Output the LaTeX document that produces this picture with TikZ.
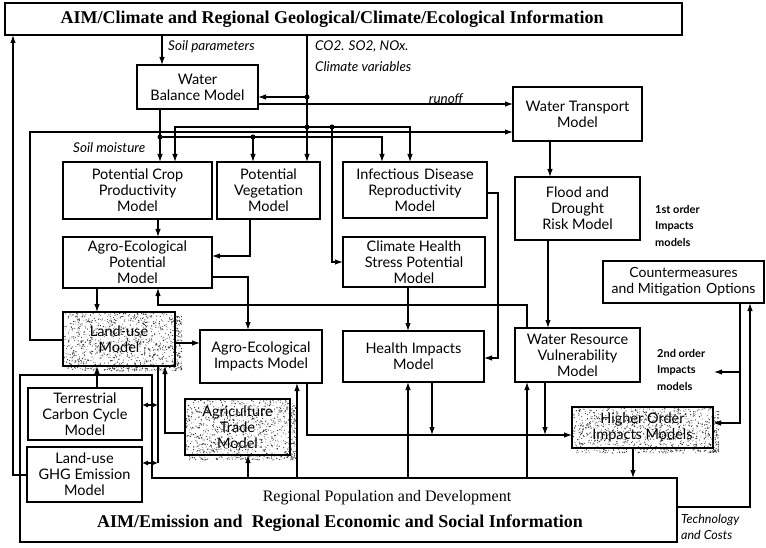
\documentclass[tikz,border=0pt]{standalone}
\usepackage{fontspec}
\setmainfont{Liberation Serif}
\newfontfamily\bxf{Lato}
\usetikzlibrary{arrows.meta}
\tikzset{
  box/.style={draw, line width=1.2pt, outer sep=0pt, inner sep=1pt, align=center,
    font=\bxf\fontsize{14.5}{16}\selectfont, fill=white},
  sbox/.style={box, fill=none},
  conn/.style={line width=1.1pt},
  arr/.style={conn, -{Latex[length=8pt,width=5.5pt]}},
  tw/.style={conn, {Latex[length=6pt,width=5pt]}-{Latex[length=6pt,width=5pt]}},
  lab/.style={font=\bxf\itshape\fontsize{13.5}{16}\selectfont, inner sep=0pt},
  note/.style={font=\bxf\bfseries\fontsize{11}{16.5}\selectfont, align=left, inner sep=0pt},
  dotn/.style={circle, fill, inner sep=0pt, minimum size=5pt},
}
\newcommand\speck[5]{%
  \begin{scope}
    \clip (#1,#2) rectangle (#3,#4);
    \foreach \k in {1,...,#5}{\fill[black!80] ({#1+rnd*(#3-#1)},{#2+rnd*(#4-#2)}) circle ({0.3+0.45*rnd});}
  \end{scope}}
\begin{document}
\begin{tikzpicture}[x=1pt,y=-1pt]
\pgfmathsetseed{42}
\useasboundingbox (0,0) rectangle (766,548);
% top box
\node[box, minimum width=677pt, minimum height=32pt] (top) at (343.5,19) {};
\node[font=\bfseries\fontsize{18}{20}\selectfont, inner sep=0pt] (toptxt) at (332,19) {AIM/Climate and Regional Geological/Climate/Ecological Information};
% bottom box
\draw[line width=1.2pt] (20,375) -- (152,375) -- (152,478) -- (677,478) -- (677,542) -- (20,542) -- cycle;
\coordinate (be) at (0,478);
\node[font=\fontsize{16}{18}\selectfont, inner sep=0pt] (rp) at (387,498) {Regional Population and Development};
\node[font=\bfseries\fontsize{18}{20}\selectfont, inner sep=0pt] (aimE) at (340,523) {AIM/Emission and\ \ Regional Economic and Social Information};
% stippled areas
\speck{63}{312}{175}{366}{900}
\speck{175}{316}{182}{371}{110}
\speck{67}{366}{182}{371}{140}
\speck{185}{399}{290}{455}{850}
\speck{290}{403}{296}{460}{100}
\speck{189}{455}{296}{460}{120}
\speck{572}{407}{713}{448}{850}
\speck{713}{411}{719}{453}{80}
\speck{576}{448}{719}{453}{150}
% boxes
\node[box, minimum width=121pt, minimum height=44pt] (WB) at (197.5,87) {Water\\Balance Model};
\node[box, minimum width=129pt, minimum height=54pt] (WT) at (577.5,114) {Water Transport\\Model};
\node[box, minimum width=149pt, minimum height=57pt] (PC) at (137.5,190.5) {Potential Crop\\Productivity\\Model};
\node[box, minimum width=103pt, minimum height=57pt] (PV) at (268.5,190.5) {Potential\\Vegetation\\Model};
\node[box, minimum width=144pt, minimum height=56pt] (ID) at (415,190) {Infectious\hspace{5pt}Disease\\Reproductivity\\Model};
\node[box, minimum width=125pt, minimum height=63pt] (FD) at (577.5,208.5) {Flood and\\Drought\\Risk Model};
\node[box, minimum width=149pt, minimum height=51pt] (AEP) at (137.5,262.5) {Agro-Ecological\\Potential\\Model};
\node[box, minimum width=142pt, minimum height=50pt] (CHS) at (414,262) {Climate Health\\Stress Potential\\Model};
\node[box, minimum width=161pt, minimum height=42pt, inner sep=0pt, font=\bxf\fontsize{14}{16}\selectfont] (CM) at (683.5,282) {Countermeasures\\and Mitigation\hspace{5pt}Options};
\node[sbox, minimum width=112pt, minimum height=54pt] (LU) at (119,339) {Land-use\\Model};
\node[box, minimum width=122pt, minimum height=53pt] (AEI) at (261,356.5) {Agro-Ecological\\Impacts Model};
\node[box, minimum width=141pt, minimum height=51pt] (HI) at (413.5,356.5) {Health Impacts\\Model};
\node[box, minimum width=125pt, minimum height=54pt] (WRV) at (577.5,355) {Water Resource\\Vulnerability\\Model};
\node[box, minimum width=114pt, minimum height=52pt] (TC) at (85,414) {Terrestrial\\Carbon Cycle\\Model};
\node[box, minimum width=115pt, minimum height=55pt] (GHG) at (84.5,474.5) {Land-use\\GHG Emission\\Model};
\node[sbox, minimum width=105pt, minimum height=56pt] (AT) at (237.5,427) {Agriculture\\Trade\\Model};
\node[sbox, minimum width=141pt, minimum height=41pt] (HO) at (642.5,427.5) {Higher Order\\Impacts Models};
% labels
\node[lab, anchor=west] (sp) at (168,47) {Soil parameters};
\node[lab, anchor=west] (co1) at (315,47) {CO2. SO2, NOx.};
\node[lab, anchor=west] (co2) at (315,67) {Climate variables};
\node[lab] (ro) at (446,99) {runoff};
\node[lab, anchor=west] (sm) at (73,148) {Soil moisture};
\node[note, anchor=north west] (o1) at (655,205) {1st order\\Impacts\\models};
\node[note, anchor=north west] (o2) at (657,349) {2nd order\\Impacts\\models};
\node[lab, anchor=north west, align=left, font=\bxf\itshape\fontsize{12.5}{16}\selectfont] (tcl) at (681,514) {Technology\\and Costs};
% junction points
\coordinate (c1) at (307,97);
\coordinate (c2) at (307,127);
\coordinate (c3) at (332,127);
\coordinate (s1) at (160,137);
\coordinate (s2) at (253,137);
% connectors: top
\draw[arr] (162,0 |- top.south) -- (162,0 |- WB.north);
\draw[arr] (307,0 |- top.south) -- (307,0 |- PV.north);
\draw[arr] (c1) -- (c1 -| WB.east);
\draw[arr] (c2) -- (175,127) -- (175,0 |- PC.north);
\draw[arr] (c2) -- (410,127) -- (410,0 |- ID.north);
\draw[arr] (c3) |- (CHS.west);
\draw[arr] (160,0 |- WB.south) -- (160,0 |- PC.north);
\draw[arr] (s1) -- (382,137) -- (382,0 |- ID.north);
\draw[arr] (s2) -- (253,0 |- PV.north);
\draw[arr] (WB.east |- 0,104) -- (WT.west |- 0,104);
\draw[arr] (LU.west |- 0,340) -- (30,340) -- (30,132) -- (WT.west |- 0,132);
\foreach \p in {c1,c2,c3,s1,s2} \node[dotn] at (\p) {};
% middle
\draw[arr] (158,0 |- PC.south) -- (158,0 |- AEP.north);
\draw[arr] (250,0 |- PV.south) -- (250,256) -- (AEP.east |- 0,256);
\draw[arr] (AEP.east |- 0,277) -- (248,277) -- (248,0 |- AEI.north);
\draw[arr] (97,0 |- AEP.south) -- (97,0 |- LU.north);
\draw[arr] (527,0 |- WRV.north) -- (527,305) -- (158,305) -- (158,0 |- AEP.south);
\draw[arr] (ID.east |- 0,193) -- (498,193) -- (498,358) -- (HI.east |- 0,358);
\draw[arr] (408,0 |- CHS.south) -- (408,0 |- HI.north);
\draw[arr] (550,0 |- WT.south) -- (550,0 |- FD.north);
\draw[arr] (548,0 |- FD.south) -- (548,0 |- WRV.north);
\draw[arr] (LU.east |- 0,343) -- (AEI.west |- 0,343);
% lower left
\draw[arr] (97,0 |- TC.north) -- (97,0 |- LU.south);
\draw[arr] (AT.west |- 0,433) -- (165,433) -- (165,0 |- LU.south);
\draw[conn] (158,0 |- LU.south) -- (158,463);
\draw[tw] (158,405) -- (TC.east |- 0,405);
\draw[tw] (158,463) -- (GHG.east |- 0,463);
\draw[arr] (GHG.west |- 0,475) -- (13,475) -- (13,0 |- top.south);
% bottom connections
\draw[arr] (248,0 |- be) -- (248,0 |- AT.south);
\draw[arr] (297,0 |- be) -- (297,0 |- AEI.south);
\draw[arr] (408,0 |- be) -- (408,0 |- HI.south);
\draw[arr] (527,0 |- be) -- (527,0 |- WRV.south);
\draw[arr] (307,0 |- AEI.south) -- (307,435) -- (HO.west |- 0,435);
\draw[arr] (432,0 |- HI.south) -- (432,435);
\draw[arr] (545,0 |- WRV.south) -- (545,435);
\draw[arr] (633,0 |- HO.south) -- (633,0 |- be);
% right side
\draw[arr] (740,0 |- CM.south) -- (740,423) -- (HO.east |- 0,423);
\draw[arr] (740,372) -- (714,372);
\draw[arr] (677,507) -- (750,507) -- (750,0 |- CM.south);
\end{tikzpicture}
\end{document}
